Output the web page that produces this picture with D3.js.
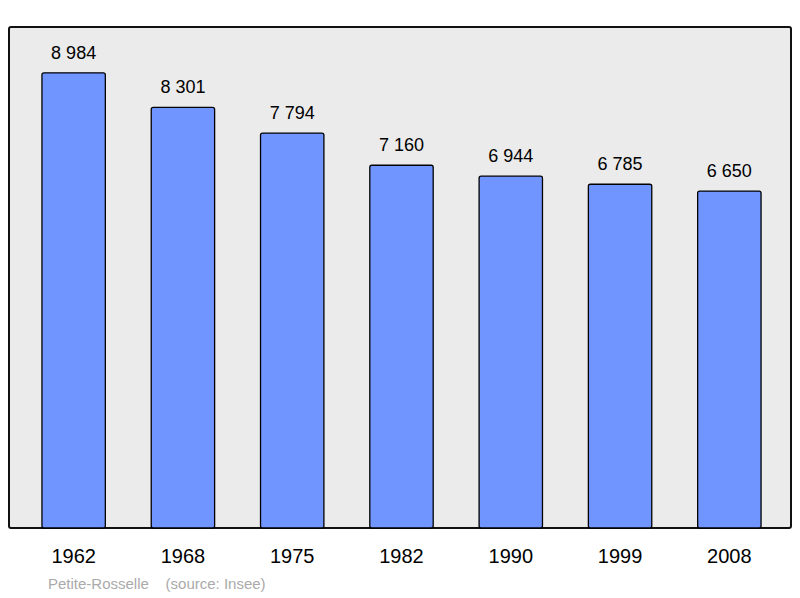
<!DOCTYPE html>
<html><head><meta charset="utf-8">
<script src="https://cdn.jsdelivr.net/npm/d3@7"></script>
<style>body{margin:0;background:#fff}svg{display:block}text{font-family:"Liberation Sans",Arial,sans-serif}</style>
</head><body>
<script>
const years = ["1962","1968","1975","1982","1990","1999","2008"];
const population = [8984, 8301, 7794, 7160, 6944, 6785, 6650];
const caption = "Petite-Rosselle";
const source = "(source: Insee)";

const svg = d3.select("body").append("svg").attr("width", 800).attr("height", 598);

svg.append("rect").attr("x", 9).attr("y", 27).attr("width", 782).attr("height", 501)
  .attr("rx", 2).attr("fill", "#ebebeb").attr("stroke", "#111").attr("stroke-width", 2);

const x = d3.scaleBand().domain(years).range([19, 784]).paddingInner(0.42).paddingOuter(0.21);
const y = d3.scaleLinear().domain([0, 9000]).range([528, 72]);

const fmt = v => d3.format(",")(v).replace(",", " ");

svg.selectAll(".bar").data(population).join("rect")
  .attr("x", (d, i) => x(years[i])).attr("y", d => y(d))
  .attr("width", x.bandwidth()).attr("height", d => y(0) - y(d))
  .attr("rx", 2).attr("fill", "#7095ff").attr("stroke", "#000").attr("stroke-width", 1.3);

svg.selectAll(".val").data(population).join("text")
  .attr("x", (d, i) => x(years[i]) + x.bandwidth() / 2).attr("y", d => y(d) - 14)
  .attr("text-anchor", "middle").attr("font-size", 18).attr("fill", "#000").text(fmt);

svg.selectAll(".yr").data(years).join("text")
  .attr("x", d => x(d) + x.bandwidth() / 2).attr("y", 563)
  .attr("text-anchor", "middle").attr("font-size", 20).attr("fill", "#000").text(d => d);

svg.append("text").attr("x", 48).attr("y", 589).attr("font-size", 15).attr("fill", "#aaa")
  .attr("xml:space", "preserve").text(caption + "    " + source);
</script>
</body></html>
